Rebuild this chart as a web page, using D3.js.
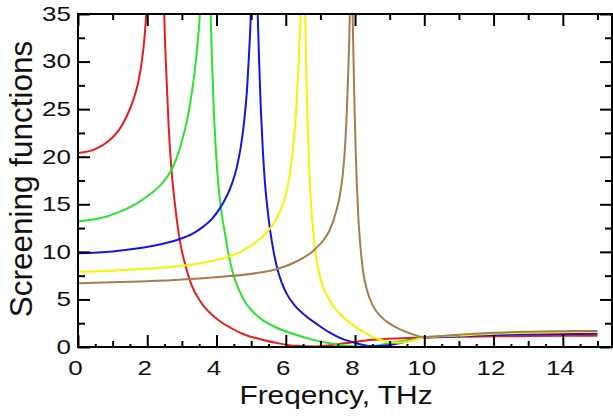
<!DOCTYPE html>
<html><head><meta charset="utf-8">
<script src="https://cdn.jsdelivr.net/npm/d3@7/dist/d3.min.js"></script>
<style>html,body{margin:0;padding:0;background:#fff;} svg{display:block}</style>
</head><body><svg id="c" width="613" height="416"></svg>
<script>
// ---- data ----
const xTicks = [0, 2, 4, 6, 8, 10, 12, 14];
const yTicks = [0, 5, 10, 15, 20, 25, 30, 35];
const seriesNames = ["red", "green", "blue", "yellow", "brown"];
const seriesColors = ["#ec1c1c", "#28e628", "#1414e6", "#f5f500", "#a87b50"];

// each series: branch below the pole and branch above the pole, [THz, value]
const redBelow = [[0,20.4],[0.5,20.8],[0.9,21.7],[1.2,22.9],[1.4,24.2],[1.6,26.0],[1.75,28.0],[1.85,30.2],[1.92,32.5],[1.97,35],[2.01,38]];
const redAbove = [[2.46,40],[2.49,35],[2.55,28.8],[2.62,23.0],[2.70,18.6],[2.80,15.0],[2.94,11.2],[3.14,8.1],[3.28,6.5],[3.57,4.6],[4.05,2.84],[4.39,2.05],[4.72,1.44],[5.35,0.74],[5.8,0.38],[6.31,0.12],[6.8,0.06],[7.3,0.2],[7.6,0.35],[8.04,0.56],[8.52,0.75],[9.2,0.9],[10,1.0],[11,1.07],[12,1.12],[13,1.15],[14,1.17],[15,1.19]];

const greenBelow = [[0,13.2],[0.6,13.5],[1.2,14.2],[1.7,15.1],[2.1,16.1],[2.4,17.1],[2.6,18.0],[2.75,19.0],[2.9,20.4],[3.05,22.3],[3.18,24.4],[3.29,26.8],[3.38,29.3],[3.45,31.8],[3.51,34.5],[3.54,37]];
const greenAbove = [[3.80,40],[3.83,35],[3.87,30],[3.92,25],[3.98,20.8],[4.04,17.6],[4.10,15.4],[4.17,13.5],[4.25,11.8],[4.34,9.9],[4.45,8.1],[4.55,6.9],[4.70,5.6],[4.85,4.6],[5.05,3.7],[5.30,2.9],[5.69,2.1],[6.31,1.26],[6.8,0.75],[7.27,0.39],[7.7,0.15],[8.14,0.05],[8.5,0.1],[9.0,0.4],[9.5,0.7],[10,1.0],[11,1.15],[12,1.28],[13,1.35],[14,1.39],[15,1.42]];

const blueBelow = [[0,9.85],[1.0,10.05],[1.8,10.4],[2.4,10.8],[2.94,11.35],[3.3,11.9],[3.6,12.6],[3.9,13.6],[4.1,14.6],[4.3,15.9],[4.45,17.2],[4.58,18.8],[4.70,21.0],[4.80,23.8],[4.88,27.0],[4.935,30.5],[4.975,33.5],[5.0,36],[5.02,39]];
const blueAbove = [[5.16,40],[5.19,35],[5.23,30],[5.28,25],[5.34,20.5],[5.40,17.2],[5.47,14.6],[5.55,12.2],[5.65,10.0],[5.75,8.3],[5.88,6.8],[6.02,5.64],[6.25,4.4],[6.50,3.5],[6.9,2.4],[7.27,1.5],[7.6,0.9],[8.04,0.4],[8.5,0.08],[8.9,0.15],[9.4,0.5],[10,1.0],[11,1.12],[12,1.25],[13,1.32],[14,1.36],[15,1.38]];

const yellowBelow = [[0,7.9],[1.4,8.1],[2.8,8.45],[3.76,8.95],[4.34,9.5],[4.7,10.0],[5.01,10.7],[5.3,11.5],[5.49,12.2],[5.7,13.3],[5.93,15.1],[6.05,16.8],[6.15,19.0],[6.24,22.0],[6.31,25.5],[6.36,29.0],[6.40,32.5],[6.43,35],[6.46,39]];
const yellowAbove = [[6.53,40],[6.56,35],[6.59,29],[6.63,23.5],[6.68,18.5],[6.73,15.0],[6.80,11.8],[6.88,9.4],[6.98,7.5],[7.10,6.1],[7.27,4.9],[7.5,3.7],[7.75,2.85],[8.1,1.9],[8.43,1.2],[8.8,0.7],[9.2,0.45],[9.6,0.65],[10,1.0],[11,1.2],[12,1.4],[13,1.5],[14,1.55],[15,1.58]];

const brownBelow = [[0,6.7],[1.5,6.85],[2.8,7.04],[4.24,7.4],[5.2,7.8],[5.69,8.15],[6.2,8.8],[6.79,10.1],[7.1,11.3],[7.27,12.3],[7.45,14.2],[7.56,15.9],[7.65,18.3],[7.71,21],[7.76,24.5],[7.80,28.5],[7.83,32],[7.85,35],[7.87,39]];
const brownAbove = [[7.91,40],[7.93,35],[7.96,29.5],[7.99,24.5],[8.02,20.5],[8.05,17.3],[8.09,14.0],[8.15,10.8],[8.23,8.0],[8.35,5.9],[8.52,4.3],[8.72,3.3],[9.0,2.45],[9.3,1.85],[9.58,1.44],[10,1.05],[10.5,1.15],[11,1.3],[12,1.5],[13,1.6],[14,1.66],[15,1.68]];

const branches = [
  [redBelow, redAbove], [greenBelow, greenAbove], [blueBelow, blueAbove],
  [yellowBelow, yellowAbove], [brownBelow, brownAbove]
];

// ---- layout ----
const L = 78, R = 612, T = 14, B = 347;
const svg = d3.select("#c");
const x = d3.scaleLinear().domain([0, 15.42]).range([L, R]);
const y = d3.scaleLinear().domain([0, 35]).range([B, T]);
const font = "'Liberation Sans', Arial, Helvetica, sans-serif";

svg.append("defs").append("clipPath").attr("id", "plot")
  .append("rect").attr("x", L).attr("y", T).attr("width", R - L).attr("height", B - T);

const line = d3.line().x(d => x(d[0])).y(d => y(d[1])).curve(d3.curveMonotoneX);
const g = svg.append("g").attr("clip-path", "url(#plot)");
branches.forEach((br, i) => {
  br.forEach(pts => {
    g.append("path").attr("d", line(pts)).attr("fill", "none")
      .attr("stroke", seriesColors[i]).attr("stroke-width", 2)
      .attr("class", "series-" + seriesNames[i]);
  });
});

// ---- axes ----
function styleAxis(sel) {
  sel.select(".domain").remove();
  sel.selectAll(".tick line").attr("stroke", "#000").attr("stroke-width", 2);
}
const xMinor = d3.range(1, 16, 2);
const xSmall = d3.range(0.5, 15.5, 1);
const yMinor = d3.range(2.5, 35, 5);

// bottom
svg.append("g").attr("transform", `translate(0,${B})`)
  .call(d3.axisBottom(x).tickValues(xTicks).tickSizeInner(-12).tickSizeOuter(0).tickPadding(14).tickFormat(d3.format("d")))
  .call(styleAxis)
  .call(s => s.selectAll("text").attr("font-family", font).attr("font-size", 20).attr("fill", "#111")
    .attr("transform", "translate(-3,0) scale(1.3,1)"));
svg.append("g").attr("transform", `translate(0,${B})`)
  .call(d3.axisBottom(x).tickValues(xMinor).tickSizeInner(-6).tickSizeOuter(0).tickFormat(""))
  .call(styleAxis);
svg.append("g").attr("transform", `translate(0,${B})`)
  .call(d3.axisBottom(x).tickValues(xSmall).tickSizeInner(-3).tickSizeOuter(0).tickFormat(""))
  .call(styleAxis);
// top
svg.append("g").attr("transform", `translate(0,${T})`)
  .call(d3.axisTop(x).tickValues(xTicks).tickSizeInner(-12).tickSizeOuter(0).tickFormat(""))
  .call(styleAxis);
svg.append("g").attr("transform", `translate(0,${T})`)
  .call(d3.axisTop(x).tickValues(xMinor).tickSizeInner(-6).tickSizeOuter(0).tickFormat(""))
  .call(styleAxis);
// left
svg.append("g").attr("transform", `translate(${L},0)`)
  .call(d3.axisLeft(y).tickValues(yTicks).tickSizeInner(-12).tickSizeOuter(0).tickPadding(7).tickFormat(d3.format("d")))
  .call(styleAxis)
  .call(s => s.selectAll("text").attr("font-family", font).attr("font-size", 20).attr("fill", "#111")
    .attr("x", 0).attr("transform", "translate(-7,0) scale(1.3,1)"));
svg.append("g").attr("transform", `translate(${L},0)`)
  .call(d3.axisLeft(y).tickValues(yMinor).tickSizeInner(-7).tickSizeOuter(0).tickFormat(""))
  .call(styleAxis);
// right
svg.append("g").attr("transform", `translate(${R},0)`)
  .call(d3.axisRight(y).tickValues(yTicks).tickSizeInner(-12).tickSizeOuter(0).tickFormat(""))
  .call(styleAxis);
svg.append("g").attr("transform", `translate(${R},0)`)
  .call(d3.axisRight(y).tickValues(yMinor).tickSizeInner(-7).tickSizeOuter(0).tickFormat(""))
  .call(styleAxis);

// frame
svg.append("rect").attr("x", L).attr("y", T).attr("width", R - L).attr("height", B - T)
  .attr("fill", "none").attr("stroke", "#000").attr("stroke-width", 2);

// titles
svg.append("text").attr("transform", "translate(336,404) scale(1.15,1)").attr("text-anchor", "middle")
  .attr("font-family", font).attr("font-size", 26).attr("fill", "#111").text("Freqency, THz");
svg.append("text").attr("transform", `translate(32,179) rotate(-90)`).attr("text-anchor", "middle")
  .attr("font-family", font).attr("font-size", 31.5).attr("fill", "#111").text("Screening functions");
</script></body></html>
